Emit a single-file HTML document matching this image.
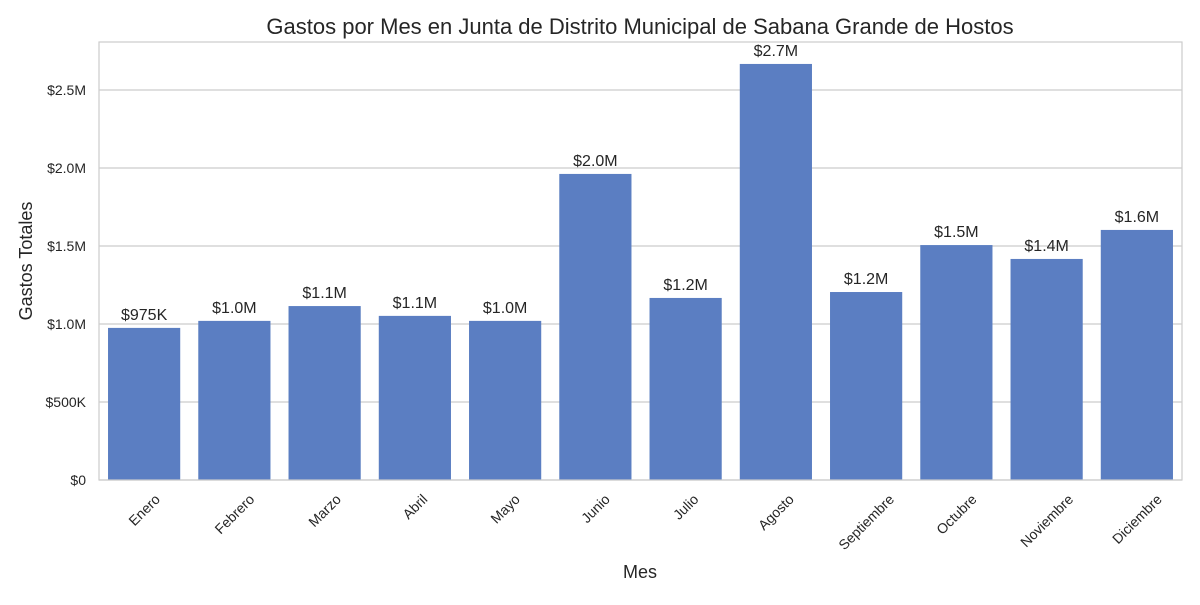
<!DOCTYPE html>
<html><head><meta charset="utf-8"><style>
body{margin:0;background:#fff}
svg text{font-family:"Liberation Sans",Arial,sans-serif}
</style></head><body>
<svg id="chart" width="1200" height="600" xmlns="http://www.w3.org/2000/svg">
<text x="640" y="34" text-anchor="middle" font-size="22" fill="#262626">Gastos por Mes en Junta de Distrito Municipal de Sabana Grande de Hostos</text>
<g id="grid"></g><g id="bars"></g><g id="labels"></g><g id="yticks"></g><g id="xticks"></g>
<rect x="99" y="42" width="1083" height="438" fill="none" stroke="#cccccc" stroke-width="1.2"/>
<text x="640" y="578" text-anchor="middle" font-size="18" fill="#262626">Mes</text>
<text transform="translate(32,261) rotate(-90)" text-anchor="middle" font-size="18" fill="#262626">Gastos Totales</text>
</svg>
<script>
const categories=["Enero","Febrero","Marzo","Abril","Mayo","Junio","Julio","Agosto","Septiembre","Octubre","Noviembre","Diciembre"];
const values=[975000,1020000,1115000,1052000,1020000,1962000,1167000,2667000,1205000,1506000,1417000,1603000];
const yTicks=[0,500000,1000000,1500000,2000000,2500000];
const yTickLabels=["$0","$500K","$1.0M","$1.5M","$2.0M","$2.5M"];
const NS="http://www.w3.org/2000/svg";
const L=99,R=1182,B=480,PX=156/1e6;
const y=v=>B-v*PX;
const band=(R-L)/categories.length;
const xc=i=>L+band*(i+0.5);
function mk(t,a,p){const e=document.createElementNS(NS,t);for(const k in a)e.setAttribute(k,a[k]);document.getElementById(p).appendChild(e);return e;}
yTicks.forEach((v,i)=>{
 const g=mk("line",{x1:L,x2:R,y1:y(v),y2:y(v),stroke:"#cccccc","stroke-width":1.2},"grid");
 
 
 const t=mk("text",{x:L-13,y:y(v)+5,"text-anchor":"end","font-size":14,fill:"#262626"},"yticks");
 t.textContent=yTickLabels[i];
 
 
});
const fmt=v=>v>=1e6?"$"+(v/1e6).toFixed(1)+"M":"$"+Math.round(v/1e3)+"K";
categories.forEach((c,i)=>{
 const bw=band*0.8;
 const r=mk("rect",{x:xc(i)-bw/2,y:y(values[i]),width:bw,height:B-y(values[i]),fill:"#5b7ec2"},"bars");
 
 
 const t=mk("text",{x:xc(i),y:y(values[i])-8,"text-anchor":"middle","font-size":16,fill:"#262626"},"labels");
 t.textContent=fmt(values[i]);
 
 
 const xt=mk("text",{"text-anchor":"middle","dominant-baseline":"central","font-size":14,fill:"#262626"},"xticks");
 xt.textContent=c;
 
 
 const len=xt.getComputedTextLength();
 const hd=(len*0.707+16*0.707)/2;
 xt.setAttribute("transform",`translate(${xc(i)},${491+hd}) rotate(-45)`);
});
</script>
</body></html>
